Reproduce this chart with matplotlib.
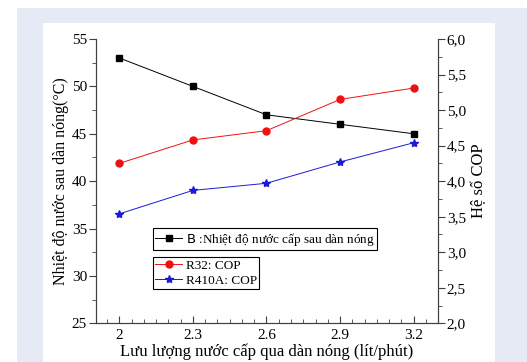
import matplotlib
matplotlib.use("Agg")
import matplotlib.pyplot as plt
from matplotlib.patches import Rectangle
from matplotlib.ticker import MultipleLocator, FuncFormatter

plt.rcParams['font.family'] = ['Liberation Serif', 'DejaVu Serif']
plt.rcParams['mathtext.fontset'] = 'custom'
plt.rcParams['mathtext.rm'] = 'Liberation Serif'
plt.rcParams['mathtext.sf'] = 'DejaVu Sans'

# Data
flow = [2, 2.3, 2.6, 2.9, 3.2]          # lit/phut
temp_out = [53, 50, 47, 46, 45]         # deg C, left axis
cop_r32 = [4.25, 4.58, 4.71, 5.15, 5.31]
cop_r410a = [3.54, 3.87, 3.97, 4.27, 4.54]
flow_labels = ["2", "2.3", "2.6", "2.9", "3.2"]

fig = plt.figure(figsize=(5.27, 3.62), dpi=100)
# background panels
fig.patches.append(Rectangle((17 / 527, 0), 1, 1 - 8 / 362, transform=fig.transFigure,
                             facecolor='#e6eaf5', edgecolor='none', zorder=-2))
fig.patches.append(Rectangle((43 / 527, 0), (495 - 43) / 527, 1 - 23 / 362, transform=fig.transFigure,
                             facecolor='white', edgecolor='none', zorder=-1))

ax = fig.add_axes([96 / 527, 1 - 323.3 / 362, 341.7 / 527, 284.3 / 362])
ax.patch.set_alpha(0)
ax2 = ax.twinx()

spine_col = '#404040'
l1, = ax.plot(flow, temp_out, color='black', lw=0.7, marker='s', ms=5,
              label=r'$\mathsf{B}$ :Nhiệt độ nước cấp sau dàn nóng')
l2, = ax2.plot(flow, cop_r32, color='#ee1111', lw=0.7, marker='o', ms=5, label='R32: COP')
l3, = ax2.plot(flow, cop_r410a, color='#1a1ad8', lw=0.7, marker='*', ms=6, label='R410A: COP')

ax.set_xlim(1.905, 3.298)
ax.set_ylim(25, 55)
ax2.set_ylim(2.0, 6.0)

ax.set_xticks(flow)
ax.set_xticklabels(flow_labels)
ax.xaxis.set_minor_locator(MultipleLocator(0.05))
ax.yaxis.set_major_locator(MultipleLocator(5))
ax.yaxis.set_minor_locator(MultipleLocator(2.5))
ax2.yaxis.set_major_locator(MultipleLocator(0.5))
ax2.yaxis.set_minor_locator(MultipleLocator(0.25))
ax2.yaxis.set_major_formatter(FuncFormatter(lambda v, p: f"{v:.1f}".replace('.', ',')))

for a in (ax, ax2):
    for s in a.spines.values():
        s.set_color(spine_col)
        s.set_linewidth(0.8)
    a.spines['top'].set_visible(False)

ax.tick_params(axis='x', which='both', direction='in', colors=spine_col, labelcolor='black',
               labelsize=11, pad=4)
ax.tick_params(axis='x', which='major', length=5)
ax.tick_params(axis='x', which='minor', length=3)
ax.tick_params(axis='y', which='both', direction='out', colors=spine_col, labelcolor='black',
               labelsize=11, pad=1.5)
ax.tick_params(axis='y', which='major', length=5)
ax.tick_params(axis='y', which='minor', length=3)
ax2.tick_params(axis='y', which='both', direction='out', colors=spine_col, labelcolor='black',
                labelsize=11, pad=1.5)
ax2.tick_params(axis='y', which='major', length=5)
ax2.tick_params(axis='y', which='minor', length=3)

ax.set_xlabel('Lưu lượng nước cấp qua dàn nóng (lít/phút)', fontsize=12, labelpad=1)
ax.set_ylabel('Nhiệt độ nước sau dàn nóng(°C)', fontsize=11.5, labelpad=2)
ax2.set_ylabel('Hệ số COP', fontsize=12, labelpad=4)

leg1 = ax2.legend(handles=[l1], loc='upper left', bbox_to_anchor=(0.166, 0.335),
                  borderaxespad=0, fancybox=False, framealpha=1, edgecolor='black',
                  fontsize=9.5, handlelength=2.0, handletextpad=0.3, borderpad=0.2)
leg1.get_frame().set_linewidth(0.8)
ax2.add_artist(leg1)
leg2 = ax2.legend(handles=[l2, l3], loc='upper left', bbox_to_anchor=(0.166, 0.233),
                  borderaxespad=0, fancybox=False, framealpha=1, edgecolor='black',
                  fontsize=9.5, handlelength=2.0, handletextpad=0.3, borderpad=0.2,
                  labelspacing=0.2)
leg2.get_frame().set_linewidth(0.8)

fig.savefig('out.png', dpi=100)
